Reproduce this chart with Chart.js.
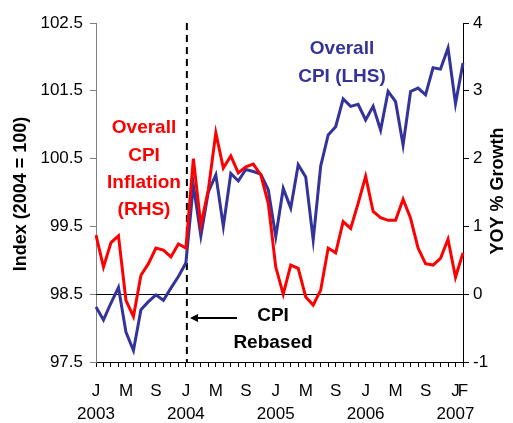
<!DOCTYPE html>
<html>
<head>
<meta charset="utf-8">
<script src="https://cdn.jsdelivr.net/npm/chart.js@4.4.1/dist/chart.umd.min.js"></script>
<style>
  body { margin: 0; background: #fff; }
  canvas { display: block; }
</style>
</head>
<body>
<canvas id="chart" width="513" height="423"></canvas>
<script>
const months = [
  'Jan 2003', 'Feb 2003', 'Mar 2003', 'Apr 2003', 'May 2003', 'Jun 2003', 'Jul 2003', 'Aug 2003', 'Sep 2003', 'Oct 2003', 'Nov 2003', 'Dec 2003',
  'Jan 2004', 'Feb 2004', 'Mar 2004', 'Apr 2004', 'May 2004', 'Jun 2004', 'Jul 2004', 'Aug 2004', 'Sep 2004', 'Oct 2004', 'Nov 2004', 'Dec 2004',
  'Jan 2005', 'Feb 2005', 'Mar 2005', 'Apr 2005', 'May 2005', 'Jun 2005', 'Jul 2005', 'Aug 2005', 'Sep 2005', 'Oct 2005', 'Nov 2005', 'Dec 2005',
  'Jan 2006', 'Feb 2006', 'Mar 2006', 'Apr 2006', 'May 2006', 'Jun 2006', 'Jul 2006', 'Aug 2006', 'Sep 2006', 'Oct 2006', 'Nov 2006', 'Dec 2006',
  'Jan 2007', 'Feb 2007'
];

// Overall CPI index, left axis (2004 = 100)
const cpiIndex = [
  98.31, 98.12, 98.37, 98.60, 97.94, 97.67, 98.27, 98.39, 98.49, 98.41, 98.59, 98.76,
  98.96, 100.11, 99.36, 100.01, 100.26, 99.50, 100.28, 100.17, 100.34, 100.31, 100.27, 100.04,
  99.35, 100.06, 99.77, 100.41, 100.23, 99.30, 100.39, 100.85, 100.97, 101.38, 101.27, 101.30,
  101.07, 101.27, 100.92, 101.49, 101.34, 100.70, 101.49, 101.54, 101.44, 101.84, 101.82, 102.13,
  101.31, 101.91
];

// Overall CPI inflation, right axis (YOY %)
const cpiInflation = [
  0.87, 0.40, 0.76, 0.86, -0.09, -0.33, 0.28, 0.45, 0.68, 0.65, 0.55, 0.74,
  0.68, 2.00, 1.02, 1.54, 2.38, 1.86, 2.04, 1.79, 1.88, 1.92, 1.76, 1.34,
  0.40, 0.00, 0.43, 0.38, -0.04, -0.16, 0.06, 0.68, 0.61, 1.07, 0.97, 1.34,
  1.74, 1.22, 1.13, 1.09, 1.09, 1.40, 1.12, 0.68, 0.45, 0.43, 0.53, 0.81,
  0.25, 0.61
];

const leftTicks = [97.5, 98.5, 99.5, 100.5, 101.5, 102.5];
const rightTicks = [-1, 0, 1, 2, 3, 4];
const tickPos = [0, 4, 8, 12, 16, 20, 24, 28, 32, 36, 40, 44, 48, 49];
const tickText = ['J', 'M', 'S', 'J', 'M', 'S', 'J', 'M', 'S', 'J', 'M', 'S', 'J', 'F'];
const yearPos = [0, 12, 24, 36, 48];
const yearText = ['2003', '2004', '2005', '2006', '2007'];
const rebaseMonth = 12;

const FONT = "'Liberation Sans', Arial, sans-serif";
const BLUE = '#333399';
const RED = '#ff0000';

Chart.defaults.font.family = FONT;
Chart.defaults.font.size = 17;
Chart.defaults.color = '#000';

const extras = {
  id: 'extras',
  beforeDatasetsDraw(chart) {
    const { ctx, chartArea, scales } = chart;
    const y0 = scales.y2.getPixelForValue(0);
    ctx.save();
    ctx.strokeStyle = '#000';
    ctx.lineWidth = 1;
    ctx.beginPath();
    ctx.moveTo(chartArea.left, Math.round(y0) + 0.5);
    ctx.lineTo(chartArea.right, Math.round(y0) + 0.5);
    ctx.stroke();

    const xr = scales.x.getPixelForValue(rebaseMonth) + 1;
    ctx.setLineDash([7, 5]);
    ctx.lineWidth = 2;
    ctx.beginPath();
    ctx.moveTo(xr, chartArea.top);
    ctx.lineTo(xr, chartArea.bottom);
    ctx.stroke();
    ctx.restore();
  },
  afterDraw(chart) {
    const { ctx } = chart;
    ctx.save();
    ctx.textAlign = 'center';
    ctx.textBaseline = 'middle';
    ctx.font = 'bold 19px ' + FONT;

    ctx.fillStyle = BLUE;
    ctx.fillText('Overall', 342, 49);
    ctx.fillText('CPI (LHS)', 342, 77);

    ctx.fillStyle = RED;
    ctx.fillText('Overall', 144, 128);
    ctx.fillText('CPI', 144, 156);
    ctx.fillText('Inflation', 144, 183);
    ctx.fillText('(RHS)', 144, 210);

    ctx.fillStyle = '#000';
    ctx.fillText('CPI', 273, 316);
    ctx.fillText('Rebased', 273, 343);

    // arrow pointing at the rebase line
    ctx.strokeStyle = '#000';
    ctx.lineWidth = 2;
    ctx.beginPath();
    ctx.moveTo(237, 318);
    ctx.lineTo(196, 318);
    ctx.stroke();
    ctx.beginPath();
    ctx.moveTo(190, 318);
    ctx.lineTo(198, 314);
    ctx.lineTo(198, 322);
    ctx.closePath();
    ctx.fill();

    // axis titles
    ctx.font = 'bold 18px ' + FONT;
    ctx.save();
    ctx.translate(21, 194);
    ctx.rotate(-Math.PI / 2);
    ctx.fillText('Index (2004 = 100)', 0, 0);
    ctx.restore();
    ctx.save();
    ctx.translate(498, 191);
    ctx.rotate(-Math.PI / 2);
    ctx.fillText('YOY % Growth', 0, 0);
    ctx.restore();
    ctx.restore();
  }
};

new Chart(document.getElementById('chart'), {
  type: 'line',
  data: {
    labels: months,
    datasets: [
      {
        label: 'Overall CPI Inflation (RHS)',
        data: cpiInflation,
        yAxisID: 'y2',
        borderColor: RED,
        borderWidth: 3,
        pointRadius: 0,
        tension: 0
      },
      {
        label: 'Overall CPI (LHS)',
        data: cpiIndex,
        yAxisID: 'y',
        borderColor: BLUE,
        borderWidth: 3,
        pointRadius: 0,
        tension: 0
      }
    ]
  },
  options: {
    responsive: false,
    animation: false,
    layout: { padding: { top: 23, left: 0, right: 0, bottom: 0 } },
    plugins: {
      legend: { display: false },
      tooltip: { enabled: false }
    },
    scales: {
      x: {
        type: 'category',
        offset: false,
        grid: { drawOnChartArea: false, tickLength: 5, color: '#000' },
        border: { color: '#000' },
        ticks: {
          autoSkip: false,
          maxRotation: 0,
          padding: 12,
          font: { size: 17, lineHeight: 1.4 },
          callback: function (value, index) {
            const k = tickPos.indexOf(index);
            if (k < 0) return '';
            const y = yearPos.indexOf(index);
            return y >= 0 ? [tickText[k], yearText[y]] : [tickText[k], ''];
          }
        },
        afterFit: function (scale) { scale.height = 61; }
      },
      y: {
        position: 'left',
        min: 97.5,
        max: 102.5,
        grid: { drawOnChartArea: false, tickLength: 6, color: '#808080' },
        border: { color: '#808080' },
        ticks: { padding: 7 },
        afterBuildTicks: function (scale) {
          scale.ticks = leftTicks.map(v => ({ value: v }));
        },
        afterFit: function (scale) { scale.width = 96; }
      },
      y2: {
        position: 'right',
        min: -1,
        max: 4,
        grid: { drawOnChartArea: false, tickLength: 6, color: '#000' },
        border: { color: '#000' },
        ticks: { padding: 4 },
        afterBuildTicks: function (scale) {
          scale.ticks = rightTicks.map(v => ({ value: v }));
        },
        afterFit: function (scale) { scale.width = 50; }
      }
    }
  },
  plugins: [extras]
});
</script>
</body>
</html>
